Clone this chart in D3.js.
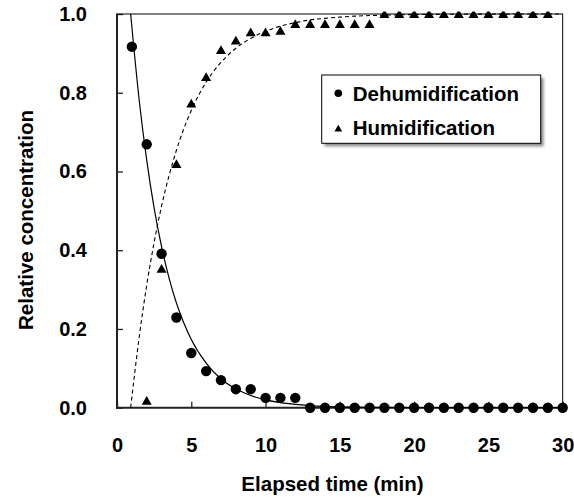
<!DOCTYPE html>
<html>
<head>
<meta charset="utf-8">
<script src="https://cdn.jsdelivr.net/npm/d3@7"></script>
<style>
  html, body { margin: 0; padding: 0; background: #fff; }
  svg { display: block; }
  text { font-family: "Liberation Sans", Arial, sans-serif; font-weight: bold; fill: #000; }
</style>
</head>
<body>
<svg id="chart" width="574" height="499"></svg>
<script>
// ---- data ----
const timeDehum = [1,2,3,4,5,6,7,8,9,10,11,12,13,14,15,16,17,18,19,20,21,22,23,24,25,26,27,28,29,30];
const valDehum  = [0.917,0.669,0.391,0.229,0.139,0.093,0.070,0.047,0.047,0.025,0.025,0.025,0,0,0,0,0,0,0,0,0,0,0,0,0,0,0,0,0,0];

const timeHum = [2,3,4,5,6,7,8,9,10,11,12,13,14,15,16,17,18,19,20,21,22,23,24,25,26,27,28,29];
const valHum  = [0.015,0.35,0.616,0.77,0.837,0.906,0.93,0.951,0.951,0.955,0.972,0.972,0.972,0.972,0.972,0.972,0.997,0.997,0.997,0.997,0.997,0.997,0.997,0.997,0.997,0.997,0.997,0.997];

// fitted curves
const fitDehumT = [0.92,1.5,2,2.5,3,3.5,4,4.5,5,6,7,8,9,10,11,12,13,14,15,17,20,25,30];
const fitDehumY = [1.0,0.779,0.629,0.507,0.409,0.330,0.266,0.215,0.173,0.113,0.073,0.048,0.031,0.020,0.013,0.0085,0.0055,0.0035,0.0023,0.001,0.0002,0,0];

const fitHumT = [0.92,1.5,2,2.5,3,3.5,4,4.5,5,6,7,8,9,10,11,12,13,14,15,16,17,18,20,22,25,30];
const fitHumY = [0,0.181,0.311,0.420,0.512,0.589,0.654,0.709,0.755,0.827,0.877,0.913,0.938,0.956,0.969,0.978,0.985,0.989,0.992,0.9945,0.996,0.997,0.9986,0.9993,0.9997,1.0];

const xTicks = [0,5,10,15,20,25,30];
const yTicks = [0,0.2,0.4,0.6,0.8,1.0];

const legendLabels = ["Dehumidification", "Humidification"];
const xTitle = "Elapsed time (min)";
const yTitle = "Relative concentration";

// ---- drawing ----
const svg = d3.select("#chart");
const x = d3.scaleLinear().domain([0, 30]).range([117, 562.7]);
const y = d3.scaleLinear().domain([0, 1]).range([407.7, 14]);

const defs = svg.append("defs");
defs.append("clipPath").attr("id", "clip")
  .append("rect").attr("x", 100).attr("y", 11.5).attr("width", 474).attr("height", 420);
const f = defs.append("filter").attr("id", "shadow").attr("x", "-10%").attr("y", "-10%").attr("width", "130%").attr("height", "140%");
f.append("feGaussianBlur").attr("stdDeviation", 1.5);

// axes
const xAxis = d3.axisBottom(x).tickValues(xTicks).tickSize(-6).tickPadding(30).tickFormat(d3.format("d"));
const yAxis = d3.axisLeft(y).tickValues(yTicks).tickSize(-6).tickPadding(30).tickFormat(d3.format(".1f"));

const gx = svg.append("g").attr("transform", `translate(0,${y(0)})`).call(xAxis);
const gy = svg.append("g").attr("transform", `translate(${x(0)},0)`).call(yAxis);
[gx, gy].forEach(g => {
  g.select(".domain").remove();
  g.selectAll(".tick line").attr("stroke", "#222").attr("stroke-width", 1.3);
  g.selectAll(".tick text").style("font-size", "20px").style("font-family", '"Liberation Sans", Arial, sans-serif').style("font-weight", "bold").attr("fill", "#000");
});

// frame
svg.append("line").attr("x1", x(0)).attr("x2", x(30)).attr("y1", y(1)).attr("y2", y(1)).attr("stroke", "#000").attr("stroke-width", 1);
svg.append("line").attr("x1", x(30)).attr("x2", x(30)).attr("y1", y(1)).attr("y2", y(0)).attr("stroke", "#000").attr("stroke-width", 1);
svg.append("line").attr("x1", x(0)).attr("x2", x(0)).attr("y1", y(1) - 0.5).attr("y2", y(0) + 1).attr("stroke", "#222").attr("stroke-width", 2);
svg.append("line").attr("x1", x(0) - 1).attr("x2", x(30)).attr("y1", y(0)).attr("y2", y(0)).attr("stroke", "#222").attr("stroke-width", 2);

const plot = svg.append("g").attr("clip-path", "url(#clip)");

const line = d3.line().x(d => x(d[0])).y(d => y(d[1])).curve(d3.curveMonotoneX);

plot.append("path")
  .datum(fitDehumT.map((t, i) => [t, fitDehumY[i]]))
  .attr("d", line).attr("fill", "none").attr("stroke", "#000").attr("stroke-width", 1.2);

plot.append("path")
  .datum(fitHumT.map((t, i) => [t, fitHumY[i]]))
  .attr("d", line).attr("fill", "none").attr("stroke", "#000").attr("stroke-width", 1.1)
  .attr("stroke-dasharray", "4,3");

// markers
plot.selectAll("circle.dehum").data(timeDehum.map((t, i) => [t, valDehum[i]]))
  .enter().append("circle").attr("class", "dehum")
  .attr("cx", d => x(d[0])).attr("cy", d => y(d[1])).attr("r", 5.2).attr("fill", "#000");

const tri = d3.symbol().type(d3.symbolTriangle).size(44);
plot.selectAll("path.hum").data(timeHum.map((t, i) => [t, valHum[i]]))
  .enter().append("path").attr("class", "hum")
  .attr("d", tri).attr("transform", d => `translate(${x(d[0])},${y(d[1])})`).attr("fill", "#000");

// axis titles
svg.append("text").attr("x", 332.5).attr("y", 491).attr("text-anchor", "middle")
  .style("font-size", "20.5px").text(xTitle);
svg.append("text").attr("transform", "translate(33.3,220) rotate(-90)").attr("text-anchor", "middle")
  .style("font-size", "20.5px").text(yTitle);

// legend
const lg = svg.append("g");
lg.append("rect").attr("x", 324.5).attr("y", 78).attr("width", 219).attr("height", 68.3)
  .attr("fill", "#888").attr("filter", "url(#shadow)");
lg.append("rect").attr("x", 321.7).attr("y", 75).attr("width", 219).attr("height", 68.3)
  .attr("fill", "#fff").attr("stroke", "#000").attr("stroke-width", 1);
lg.append("circle").attr("cx", 338.3).attr("cy", 93.3).attr("r", 3.8).attr("fill", "#000");
lg.append("path").attr("d", d3.symbol().type(d3.symbolTriangle).size(26)).attr("transform", "translate(338.3,129.3)").attr("fill", "#000");
lg.append("text").attr("x", 352.7).attr("y", 100.7).style("font-size", "20.5px").text(legendLabels[0]);
lg.append("text").attr("x", 352.7).attr("y", 135).style("font-size", "20.5px").text(legendLabels[1]);
</script>
</body>
</html>
